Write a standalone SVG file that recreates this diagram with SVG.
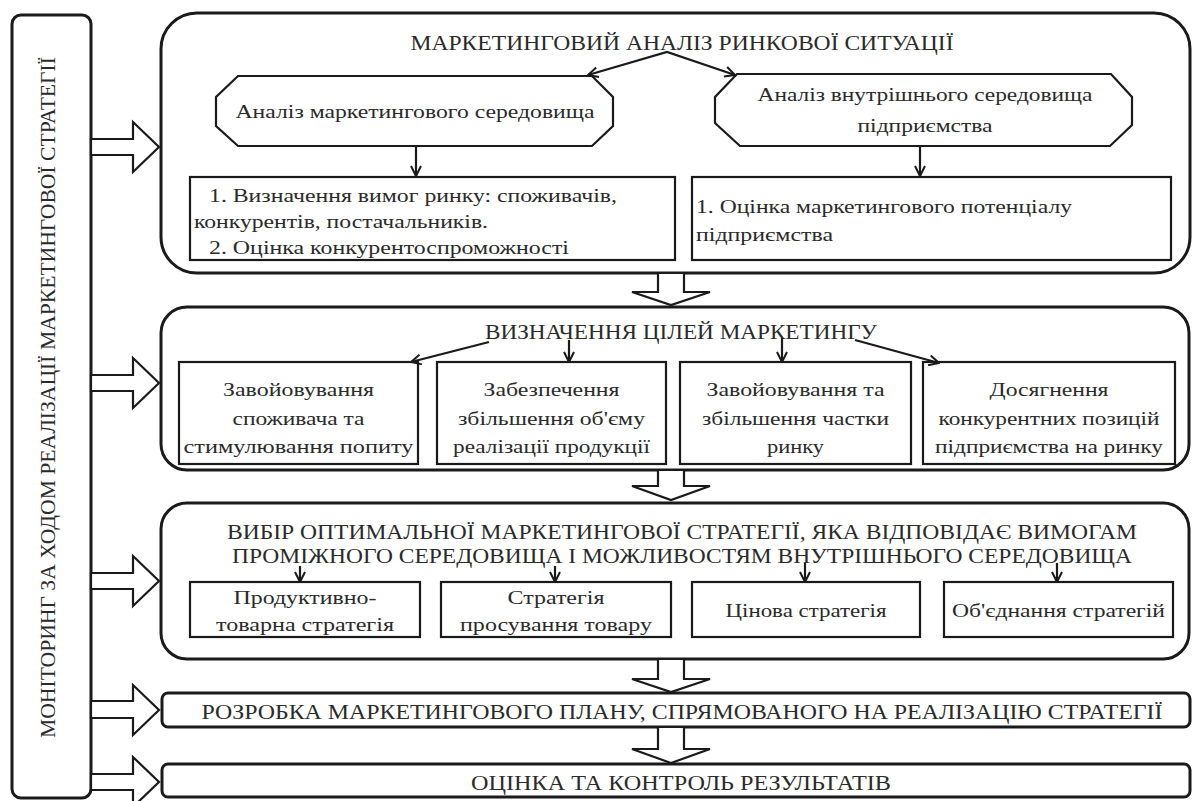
<svg xmlns="http://www.w3.org/2000/svg" width="1192" height="801" viewBox="0 0 1192 801" font-family="'Liberation Serif', 'Times New Roman', 'DejaVu Serif', serif">
<style>
.frame{fill:#fff;stroke:#1a1a1a;stroke-width:3}
.box{fill:#fff;stroke:#1a1a1a;stroke-width:2.2}
.hollow{fill:#fff;stroke:#1a1a1a;stroke-width:2.2;stroke-linejoin:miter}
.con{fill:none;stroke:#1a1a1a;stroke-width:2.2}
.cap{font-family:'Liberation Serif','Times New Roman',serif;font-size:21px;fill:#2a2a2a}
.t{font-family:'Liberation Serif','Times New Roman',serif;font-size:19.5px;fill:#2a2a2a}
</style>
<defs>
<marker id="ah" viewBox="0 0 12 12" refX="11" refY="6" markerWidth="12" markerHeight="12" markerUnits="userSpaceOnUse" orient="auto-start-reverse">
<path d="M1,1 L11,6 L1,11" fill="none" stroke="#1a1a1a" stroke-width="2"/>
</marker>
</defs>
<rect width="1192" height="801" fill="#fff"/>

<g id="monitoring">
<rect class="frame" x="12" y="15" width="79" height="783" rx="9"/>
<text class="cap" transform="translate(55,397.5) rotate(-90)" text-anchor="middle" textLength="681" lengthAdjust="spacingAndGlyphs">МОНІТОРИНГ ЗА ХОДОМ РЕАЛІЗАЦІЇ МАРКЕТИНГОВОЇ СТРАТЕГІЇ</text>
</g>

<g id="side-arrows">
<polygon class="hollow" points="91,139 133,139 133,122 159,147 133,172 133,155 91,155"/>
<polygon class="hollow" points="91,375 133,375 133,358 159,383 133,408 133,391 91,391"/>
<polygon class="hollow" points="91,573 133,573 133,556 159,581 133,606 133,589 91,589"/>
<polygon class="hollow" points="91,701 133,701 133,685 159,710 133,735 133,718 91,718"/>
<polygon class="hollow" points="91,774 133,774 133,757 159,782 133,807 133,790 91,790"/>
</g>

<g id="analysis">
<rect class="frame" x="161" y="13" width="1029" height="260" rx="36"/>
<text class="cap" x="682" y="50" text-anchor="middle" textLength="543" lengthAdjust="spacingAndGlyphs">МАРКЕТИНГОВИЙ АНАЛІЗ РИНКОВОЇ СИТУАЦІЇ</text>
</g>

<g id="env-analysis">
<polygon class="box" points="238,76 592,76 613,97 613,126 592,146 238,146 216,126 216,97"/>
<text class="t" x="415" y="118" text-anchor="middle" textLength="359" lengthAdjust="spacingAndGlyphs">Аналіз маркетингового середовища</text>
</g>

<g id="internal-analysis">
<polygon class="box" points="737,74 1111,74 1132,97 1132,125 1110,146 740,146 715,123 715,97"/>
<text class="t" x="925" y="101" text-anchor="middle" textLength="335" lengthAdjust="spacingAndGlyphs">Аналіз внутрішнього середовища</text>
<text class="t" x="925" y="132" text-anchor="middle" textLength="135" lengthAdjust="spacingAndGlyphs">підприємства</text>
</g>

<g id="market-requirements">
<rect class="box" x="190" y="177" width="485" height="83"/>
<text class="t" x="209" y="202" textLength="408" lengthAdjust="spacingAndGlyphs">1. Визначення вимог ринку: споживачів,</text>
<text class="t" x="194" y="228" textLength="294" lengthAdjust="spacingAndGlyphs">конкурентів, постачальників.</text>
<text class="t" x="209" y="254" textLength="360" lengthAdjust="spacingAndGlyphs">2. Оцінка конкурентоспроможності</text>
</g>

<g id="potential">
<rect class="box" x="692" y="177" width="479" height="83"/>
<text class="t" x="696" y="213" textLength="376" lengthAdjust="spacingAndGlyphs">1. Оцінка маркетингового потенціалу</text>
<text class="t" x="696" y="241" textLength="137" lengthAdjust="spacingAndGlyphs">підприємства</text>
</g>

<g id="goals">
<rect class="frame" x="161" y="307" width="1028" height="163" rx="26"/>
<text class="cap" x="681" y="339" text-anchor="middle" textLength="392" lengthAdjust="spacingAndGlyphs">ВИЗНАЧЕННЯ ЦІЛЕЙ МАРКЕТИНГУ</text>
</g>

<g id="goal-consumer">
<rect class="box" x="179" y="362" width="239" height="102"/>
<text class="t" x="298.5" y="396" text-anchor="middle" textLength="151" lengthAdjust="spacingAndGlyphs">Завойовування</text>
<text class="t" x="298.5" y="425" text-anchor="middle" textLength="132" lengthAdjust="spacingAndGlyphs">споживача та</text>
<text class="t" x="298.5" y="453" text-anchor="middle" textLength="230" lengthAdjust="spacingAndGlyphs">стимулювання попиту</text>
</g>

<g id="goal-volume">
<rect class="box" x="437" y="362" width="229" height="102"/>
<text class="t" x="551.5" y="396" text-anchor="middle" textLength="136" lengthAdjust="spacingAndGlyphs">Забезпечення</text>
<text class="t" x="551.5" y="425" text-anchor="middle" textLength="187" lengthAdjust="spacingAndGlyphs">збільшення об'єму</text>
<text class="t" x="551.5" y="453" text-anchor="middle" textLength="197" lengthAdjust="spacingAndGlyphs">реалізації продукції</text>
</g>

<g id="goal-share">
<rect class="box" x="680" y="362" width="231" height="102"/>
<text class="t" x="795.5" y="396" text-anchor="middle" textLength="178" lengthAdjust="spacingAndGlyphs">Завойовування та</text>
<text class="t" x="795.5" y="425" text-anchor="middle" textLength="187" lengthAdjust="spacingAndGlyphs">збільшення частки</text>
<text class="t" x="795.5" y="453" text-anchor="middle" textLength="57" lengthAdjust="spacingAndGlyphs">ринку</text>
</g>

<g id="goal-position">
<rect class="box" x="923" y="362" width="252" height="102"/>
<text class="t" x="1049" y="396" text-anchor="middle" textLength="119" lengthAdjust="spacingAndGlyphs">Досягнення</text>
<text class="t" x="1049" y="425" text-anchor="middle" textLength="221" lengthAdjust="spacingAndGlyphs">конкурентних позицій</text>
<text class="t" x="1049" y="453" text-anchor="middle" textLength="228" lengthAdjust="spacingAndGlyphs">підприємства на ринку</text>
</g>

<g id="strategy">
<rect class="frame" x="161" y="503" width="1028" height="156" rx="26"/>
<text class="cap" x="682" y="539" text-anchor="middle" textLength="910" lengthAdjust="spacingAndGlyphs">ВИБІР ОПТИМАЛЬНОЇ МАРКЕТИНГОВОЇ СТРАТЕГІЇ, ЯКА ВІДПОВІДАЄ ВИМОГАМ</text>
<text class="cap" x="682" y="563" text-anchor="middle" textLength="900" lengthAdjust="spacingAndGlyphs">ПРОМІЖНОГО СЕРЕДОВИЩА І МОЖЛИВОСТЯМ ВНУТРІШНЬОГО СЕРЕДОВИЩА</text>
</g>

<g id="product-strategy">
<rect class="box" x="190" y="582" width="230" height="55"/>
<text class="t" x="305" y="604" text-anchor="middle" textLength="143" lengthAdjust="spacingAndGlyphs">Продуктивно-</text>
<text class="t" x="305" y="631" text-anchor="middle" textLength="178" lengthAdjust="spacingAndGlyphs">товарна стратегія</text>
</g>

<g id="promotion-strategy">
<rect class="box" x="441" y="582" width="230" height="55"/>
<text class="t" x="556" y="604" text-anchor="middle" textLength="97" lengthAdjust="spacingAndGlyphs">Стратегія</text>
<text class="t" x="556" y="631" text-anchor="middle" textLength="192" lengthAdjust="spacingAndGlyphs">просування товару</text>
</g>

<g id="price-strategy">
<rect class="box" x="692" y="582" width="228" height="55"/>
<text class="t" x="806" y="617" text-anchor="middle" textLength="161" lengthAdjust="spacingAndGlyphs">Цінова стратегія</text>
</g>

<g id="combined-strategy">
<rect class="box" x="944" y="582" width="229" height="55"/>
<text class="t" x="1058.5" y="617" text-anchor="middle" textLength="213" lengthAdjust="spacingAndGlyphs">Об'єднання стратегій</text>
</g>

<g id="plan">
<rect class="frame" x="162" y="693" width="1028" height="34" rx="6"/>
<text class="cap" x="682" y="719" text-anchor="middle" textLength="961" lengthAdjust="spacingAndGlyphs">РОЗРОБКА МАРКЕТИНГОВОГО ПЛАНУ, СПРЯМОВАНОГО НА РЕАЛІЗАЦІЮ СТРАТЕГІЇ</text>
</g>

<g id="control">
<rect class="frame" x="162" y="764" width="1028" height="33" rx="6"/>
<text class="cap" x="681" y="790" text-anchor="middle" textLength="420" lengthAdjust="spacingAndGlyphs">ОЦІНКА ТА КОНТРОЛЬ РЕЗУЛЬТАТІВ</text>
</g>

<g id="connectors">
<polygon class="hollow" points="658,273 684,273 684,292 710,292 671,305 632,292 658,292"/>
<polygon class="hollow" points="658,470 684,470 684,486 710,486 671,500 632,486 658,486"/>
<polygon class="hollow" points="658,659 684,659 684,679 710,679 671,692 632,679 658,679"/>
<polygon class="hollow" points="658,727 684,727 684,749 710,749 671,763 632,749 658,749"/>
<path class="con" d="M588,75 L667,52 L735,75" marker-start="url(#ah)" marker-end="url(#ah)"/>
<path class="con" d="M416,147 L416,176" marker-end="url(#ah)"/>
<path class="con" d="M920,147 L920,176" marker-end="url(#ah)"/>
<path class="con" d="M489,342 L411,362" marker-end="url(#ah)"/>
<path class="con" d="M569,340 L569,362" marker-end="url(#ah)"/>
<path class="con" d="M782,338 L782,362" marker-end="url(#ah)"/>
<path class="con" d="M855,340 L939,363" marker-end="url(#ah)"/>
<path class="con" d="M300,566 L300,582" marker-end="url(#ah)"/>
<path class="con" d="M555,566 L555,582" marker-end="url(#ah)"/>
<path class="con" d="M805,563 L805,582" marker-end="url(#ah)"/>
<path class="con" d="M1057,563 L1057,582" marker-end="url(#ah)"/>
</g>
</svg>
